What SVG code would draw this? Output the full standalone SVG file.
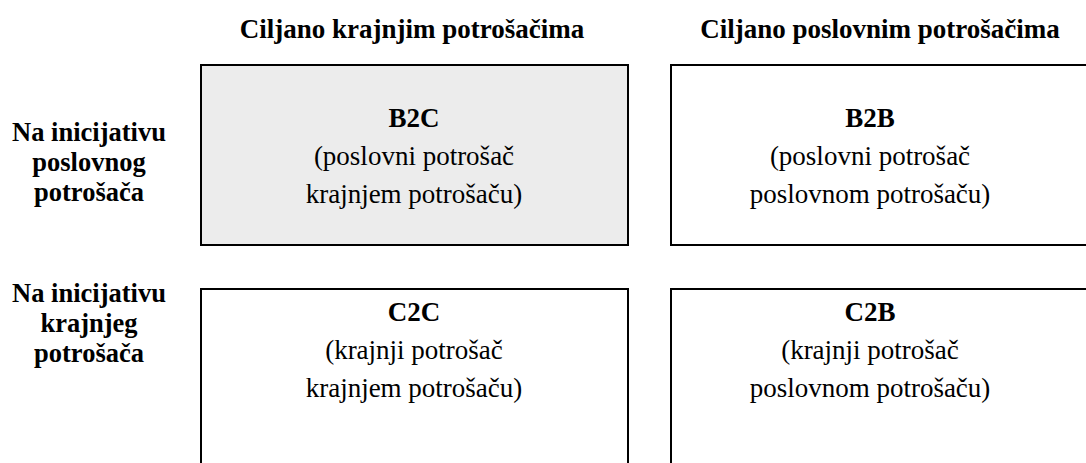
<svg xmlns="http://www.w3.org/2000/svg" width="1086" height="463" viewBox="0 0 1086 463">
<style>
text{font-family:'Liberation Serif','Times New Roman',serif;fill:#000;text-anchor:middle}
.h{font-size:27px;font-weight:bold}
.l{font-size:26.5px;font-weight:bold}
.t{font-size:27px;font-weight:bold}
.d{font-size:27px}
.box{stroke:#000;stroke-width:2}
</style>
<rect width="1086" height="463" fill="#fff"/>
<g id="header">
<text class="h" x="412" y="38">Ciljano krajnjim potrošačima</text>
<text class="h" x="880" y="38">Ciljano poslovnim potrošačima</text>
</g>
<g id="row1-label">
<text class="l" x="89" y="141">Na inicijativu</text>
<text class="l" x="89" y="171">poslovnog</text>
<text class="l" x="89" y="201">potrošača</text>
</g>
<g id="row2-label">
<text class="l" x="89" y="302">Na inicijativu</text>
<text class="l" x="89" y="332">krajnjeg</text>
<text class="l" x="89" y="362">potrošača</text>
</g>
<g id="b2c">
<rect class="box" x="201" y="65" width="427" height="180" fill="#ececec"/>
<text class="t" x="414" y="127">B2C</text>
<text class="d" x="414" y="165">(poslovni potrošač</text>
<text class="d" x="414" y="203">krajnjem potrošaču)</text>
</g>
<g id="b2b">
<rect class="box" x="671" y="65" width="427" height="180" fill="#fff"/>
<text class="t" x="870" y="127">B2B</text>
<text class="d" x="870" y="165">(poslovni potrošač</text>
<text class="d" x="870" y="203">poslovnom potrošaču)</text>
</g>
<g id="c2c">
<rect class="box" x="201" y="289" width="427" height="190" fill="#fff"/>
<text class="t" x="414" y="321">C2C</text>
<text class="d" x="414" y="359">(krajnji potrošač</text>
<text class="d" x="414" y="397">krajnjem potrošaču)</text>
</g>
<g id="c2b">
<rect class="box" x="671" y="289" width="427" height="190" fill="#fff"/>
<text class="t" x="870" y="321">C2B</text>
<text class="d" x="870" y="359">(krajnji potrošač</text>
<text class="d" x="870" y="397">poslovnom potrošaču)</text>
</g>
<g id="connectors"></g>
</svg>
